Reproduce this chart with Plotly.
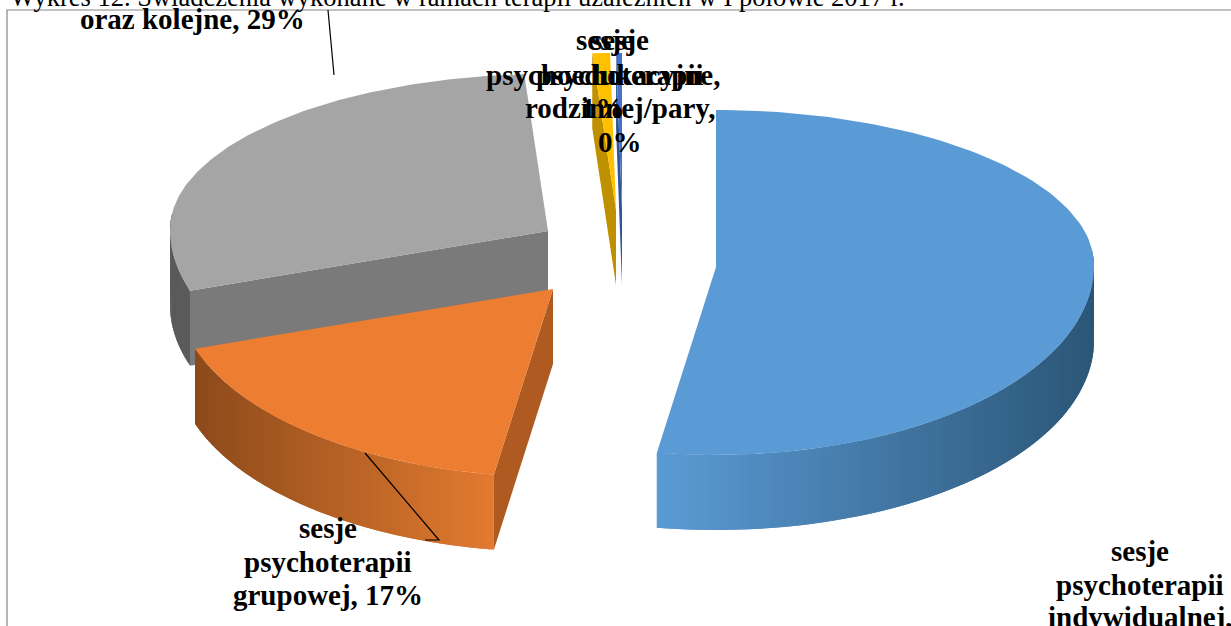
import numpy as np
import plotly.graph_objects as go

# data
categories = ["indywidualna", "grupowa", "kolejne", "psychoedukacyjne", "rodzinna/pary"]
shares = [52.5, 17.3, 29.2, 0.75, 0.25]

# style, one entry per slice
top_colors = ["#5b9bd5", "#ed7d31", "#a5a5a5", "#ffc000", "#4472c4"]
rim_left = ["#5b9bd5", "#8c4a1a", "#5a5a5a", "#bf9000", "#2f5597"]
rim_right = ["#2b5677", "#e27a30", "#6c6c6c", "#bf9000", "#2f5597"]
edge_colors = ["#2b5677", "#ae5a21", "#7a7a7a", "#bf9000", "#2f5597"]
pull_x = [92, -71, -76, -8, -2]
pull_y = [4, 26, -32, -53, -53]
draw_order = [3, 4, 2, 0, 1]

CX, CY = 624, 263
RX, RY_MID, RY_SPAN, DEPTH = 378, 172.5, 15.5, 75


def lerp(c1, c2, t):
    a = [int(c1[i:i + 2], 16) for i in (1, 3, 5)]
    b = [int(c2[i:i + 2], 16) for i in (1, 3, 5)]
    return "rgb(%d,%d,%d)" % tuple(round(p + (q - p) * t) for p, q in zip(a, b))


def rim(theta):
    v = -np.cos(theta)
    return RX * np.sin(theta), v * (RY_MID + RY_SPAN * np.tanh(4 * v))


fig = go.Figure()


def poly(xs, ys, color):
    fig.add_trace(go.Scatter(x=xs, y=ys, mode="lines", fill="toself", fillcolor=color,
                             line=dict(color=color, width=0), hoverinfo="skip",
                             showlegend=False))


edges = np.concatenate([[0], np.cumsum(shares)]) / sum(shares) * 2 * np.pi
for i in draw_order:
    t0, t1 = edges[i], edges[i + 1]
    mx, my = CX + pull_x[i], CY + pull_y[i]
    th = np.linspace(t0, t1, 121)
    ox, oy = rim(th)
    rx, ry = mx + ox, my + oy
    # outer wall, shaded from left to right; each strip runs under the next to hide seams
    idx = [j for j in range(len(th) - 1) if -np.cos(th[j]) > -0.1 or -np.cos(th[j + 1]) > -0.1]
    for j in idx:
        e = min(j + 2, 120)
        xs, ys = rx[j:e + 1], ry[j:e + 1]
        t = (rx[j:j + 2].mean() - rx.min()) / max(rx.max() - rx.min(), 1)
        poly(np.r_[xs, xs[::-1], xs[0]], np.r_[ys, ys[::-1] + DEPTH, ys[0]],
             lerp(rim_left[i], rim_right[i], t))
    # radial wall at the slice's start
    poly([mx, rx[0], rx[0], mx], [my, ry[0], ry[0] + DEPTH, my + DEPTH], edge_colors[i])
    # top face
    poly(np.r_[mx, rx, mx], np.r_[my, ry, my], top_colors[i])

FONT = "Liberation Serif"
labels = [
    ("sesje", 1140, 551), ("psychoterapii", 1140, 585), ("indywidualnej,", 1140, 617),
    ("sesje", 328, 528), ("psychoterapii", 328, 562), ("grupowej, 17%", 328, 595),
    ("oraz kolejne, 29%", 192, 19),
    ("sesje", 605, 40), ("psychoedukacyjne,", 603, 75), ("1%", 603, 108),
    ("sesje", 620, 40), ("psychoterapii", 620, 75), ("rodzinnej/pary,", 620, 108), ("0%", 620, 142),
]
for text, x, y in labels:
    fig.add_annotation(x=x, y=y, text=f"<b>{text}</b>", showarrow=False, xanchor="center",
                       yanchor="middle", font=dict(family=FONT, size=29, color="black"))

fig.add_annotation(x=8, y=14, text="Wykres 12. Świadczenia wykonane w ramach terapii uzależnień w I połowie 2017 r.",
                   showarrow=False, xanchor="left", yanchor="bottom", yshift=0,
                   font=dict(family=FONT, size=26.5, color="black"))

# chart frame and leader lines
fig.add_shape(type="rect", x0=7, y0=10, x1=1240, y1=640, line=dict(color="#868686", width=1.2), layer="below")
fig.add_shape(type="line", x0=328, y0=10, x1=334, y1=75, line=dict(color="black", width=1.2))
fig.add_shape(type="path", path="M365,453 L439,540 L425,540", line=dict(color="black", width=1.2))

fig.update_xaxes(range=[0, 1231], visible=False)
fig.update_yaxes(range=[626, 0], visible=False)
fig.update_layout(width=1231, height=626, margin=dict(l=0, r=0, t=0, b=0),
                  paper_bgcolor="white", plot_bgcolor="white", showlegend=False)

fig.write_html("out.html", config={"displayModeBar": False},
               post_script="document.body.style.margin='0';document.body.style.overflow='hidden';")
